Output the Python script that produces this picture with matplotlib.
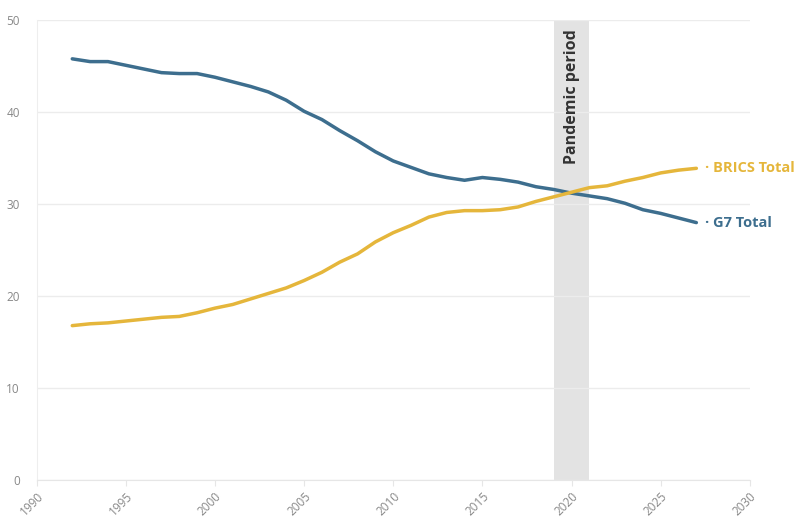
import matplotlib.pyplot as plt

years = list(range(1992, 2028))
g7_total = [45.8, 45.5, 45.5, 45.1, 44.7, 44.3, 44.2, 44.2, 43.8, 43.3,
            42.8, 42.2, 41.3, 40.1, 39.2, 38.0, 36.9, 35.7, 34.7, 34.0,
            33.3, 32.9, 32.6, 32.9, 32.7, 32.4, 31.9, 31.6, 31.2, 30.9,
            30.6, 30.1, 29.4, 29.0, 28.5, 28.0]
brics_total = [16.8, 17.0, 17.1, 17.3, 17.5, 17.7, 17.8, 18.2, 18.7, 19.1,
               19.7, 20.3, 20.9, 21.7, 22.6, 23.7, 24.6, 25.9, 26.9, 27.7,
               28.6, 29.1, 29.3, 29.3, 29.4, 29.7, 30.3, 30.8, 31.3, 31.8,
               32.0, 32.5, 32.9, 33.4, 33.7, 33.9]
pandemic_span = (2019, 2021)
x_ticks = list(range(1990, 2031, 5))
y_ticks = [0, 10, 20, 30, 40, 50]

G7_COLOR = "#3d6e8e"
BRICS_COLOR = "#e5b63b"

plt.rcParams["font.family"] = ["Open Sans", "DejaVu Sans"]

fig = plt.figure(figsize=(7.96, 5.18), dpi=100)
ax = fig.add_axes([0.046, 0.073, 0.896, 0.888])

ax.axvspan(pandemic_span[0], pandemic_span[1], color="#e3e3e3", zorder=1, lw=0)
ax.text(sum(pandemic_span) / 2 + 0.05, 49.0, "Pandemic period", rotation=90,
        ha="center", va="top", fontsize=11.5, fontweight="bold", color="#333333", zorder=4)

ax.plot(years, g7_total, color=G7_COLOR, lw=2.5, zorder=3, solid_capstyle="round")
ax.plot(years, brics_total, color=BRICS_COLOR, lw=2.5, zorder=3, solid_capstyle="round")

ax.text(years[-1] + 0.5, brics_total[-1], "· BRICS Total", color=BRICS_COLOR,
        fontsize=10.5, fontweight="bold", va="center", ha="left")
ax.text(years[-1] + 0.5, g7_total[-1], "· G7 Total", color=G7_COLOR,
        fontsize=10.5, fontweight="bold", va="center", ha="left")

ax.set_xlim(1990, 2030)
ax.set_ylim(0, 50)
ax.set_xticks(x_ticks)
ax.set_yticks(y_ticks)
ax.set_xticklabels([str(t) for t in x_ticks], rotation=45, ha="right",
                   rotation_mode="anchor", fontsize=8.5, color="#888888")
ax.set_yticklabels([str(t) for t in y_ticks], fontsize=8.5, color="#888888")
ax.tick_params(axis="y", length=0, pad=12)
ax.tick_params(axis="x", length=4, color="#e6e6e6", pad=3)

ax.grid(axis="y", color="#ececec", lw=1.0, zorder=0)
for side in ["top", "right"]:
    ax.spines[side].set_visible(False)
ax.spines["left"].set_color("#eeeeee")
ax.spines["bottom"].set_color("#e6e6e6")

fig.savefig("out.png", dpi=100)
